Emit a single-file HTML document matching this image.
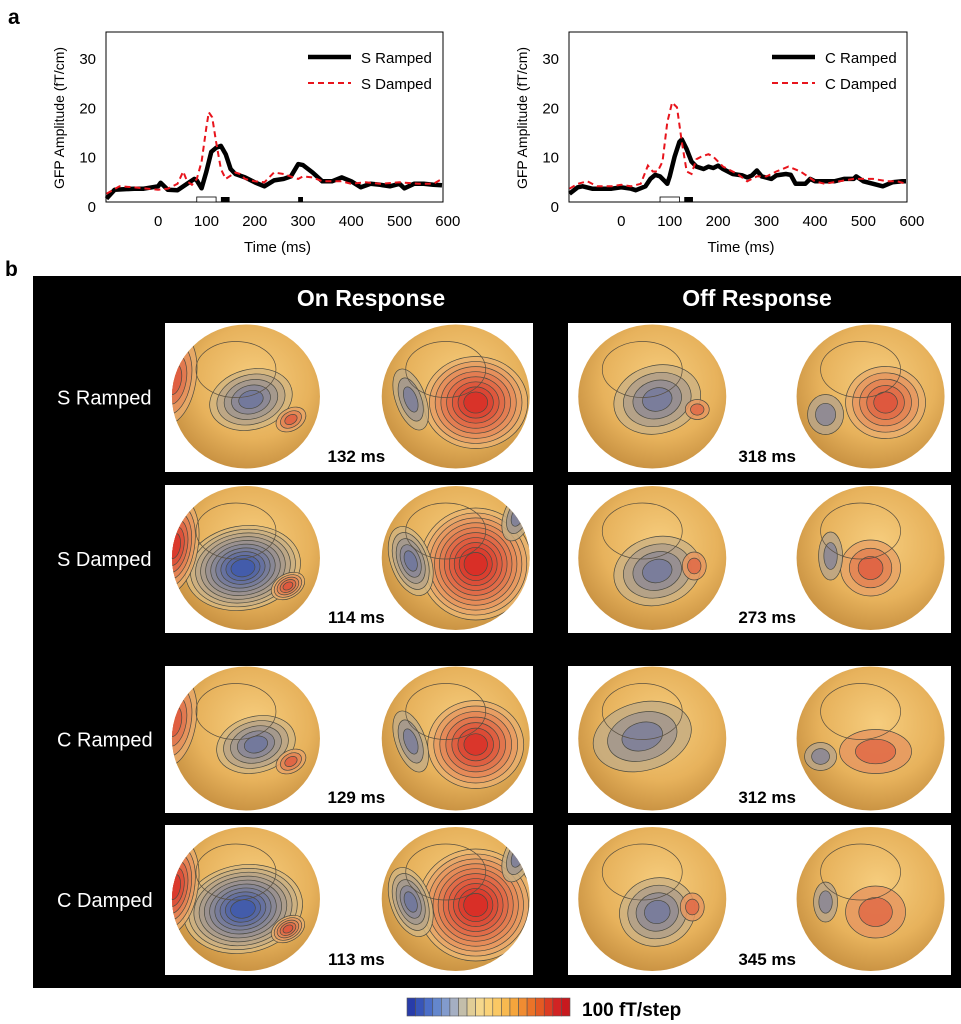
<!DOCTYPE html>
<html><head><meta charset="utf-8"><style>
html,body{margin:0;padding:0;background:#fff;}
svg{display:block;font-family:"Liberation Sans",Arial,sans-serif;}
</style></head><body>
<svg id="fig" width="961" height="1024" viewBox="0 0 961 1024" xmlns="http://www.w3.org/2000/svg">
<defs>
<radialGradient id="skin" cx="0.55" cy="0.4" r="0.65">
<stop offset="0" stop-color="#f6cd7e"/><stop offset="0.6" stop-color="#e7b25c"/><stop offset="1" stop-color="#c48d3e"/>
</radialGradient>
</defs>
<text x="8" y="24" font-size="21" font-weight="bold">a</text>
<text x="5" y="276" font-size="21" font-weight="bold">b</text>
<g id="chartL"></g>
<g id="chartR"></g>
<rect x="33" y="276" width="928" height="712" fill="#000"/>
<text x="371" y="306" font-size="23" font-weight="bold" fill="#fff" text-anchor="middle">On Response</text>
<text x="757" y="306" font-size="23" font-weight="bold" fill="#fff" text-anchor="middle">Off Response</text>
<g id="maps"></g>
<g id="cbar"></g>
<text x="582" y="1016" font-size="19" font-weight="bold">100 fT/step</text>
</svg>
<script>
const NS="http://www.w3.org/2000/svg";
function el(tag,attrs,parent,txt){const e=document.createElementNS(NS,tag);for(const k in attrs)e.setAttribute(k,attrs[k]);if(txt!==undefined)e.textContent=txt;parent.appendChild(e);return e;}

// ---------- chart data ----------
const xTicks=[0,100,200,300,400,500,600];
const yTicks=[0,10,20,30];
const sRampT=[-107,-90,-50,-30,0,5,20,40,60,75,80,90,100,110,120,130,140,150,160,180,200,220,240,260,275,290,300,320,340,360,380,400,420,440,460,480,500,510,530,550,570,588];
const sRampV=[1.5,3.3,3.5,3.5,4,4.7,3.3,3.2,4.5,5.5,5.2,3.6,7,11,11.8,12.2,10.5,7.5,6.5,5.8,4.8,4,5.2,5.5,6,8.5,8.3,6.8,5,5,5.8,5,3.8,4.5,4.3,4,4.5,3.6,4.5,4.5,4.3,4.2];
const sDampT=[-107,-80,-50,0,20,40,52,60,70,80,90,100,105,112,120,130,140,160,170,180,200,220,240,260,280,290,300,320,340,360,380,400,430,460,500,540,570,588];
const sDampV=[2.5,4,3.8,3.3,3.5,4.5,7,5,4.3,5.5,9,16,19,18,13,7.5,5.5,6.8,6.5,5.5,5,4.8,6.8,6.5,5.8,5.5,6,5.8,5,5,5,4.5,4.8,4.5,4.8,4.5,4.5,5.5];
const cRampT=[-107,-90,-80,-60,-20,0,20,30,50,60,70,80,90,95,100,110,120,125,135,145,155,170,180,190,200,210,230,250,260,270,280,290,310,320,340,350,360,380,390,400,420,440,460,480,485,500,520,540,560,580,588];
const cRampV=[2.5,3.8,4,3.5,3.5,3.8,3.5,3.2,4,5.5,6.3,6,5,4.5,6,10,13,13.5,11.5,9,8,7.5,8,7.7,8.2,7.5,6.5,6.2,5.8,6.2,7.2,6,5.5,6.2,6.5,6.3,4.5,4.5,5.5,5,5,5,5.5,5.5,6,5,4.5,4,4.8,5,5];
const cDampT=[-107,-90,-70,-50,-20,0,20,40,55,65,75,85,95,105,115,125,135,145,155,165,180,190,210,240,260,280,300,320,345,370,400,420,450,480,520,550,570,588];
const cDampV=[3.5,4.5,5,4,4,4.3,4,4.5,8.2,7,7,9,17,21,20,13,7,6.5,9.5,10,10.5,10,8,6.5,5,6,6,7,8,7,5,4.5,5,5.5,5.5,5,5,4.5];
const sOpen=[80,120], sFilled=[[130,148],[290,300]];
const cOpen=[80,120], cFilled=[[130,148]];

function drawChart(g,x0,x1,names,rT,rV,dT,dV,open,filled){
  const tMin=-108,tMax=590;
  const X=t=>x0+(t-tMin)/(tMax-tMin)*(x1-x0);
  const Y=v=>206-v*4.93;
  el('rect',{x:x0,y:32,width:x1-x0,height:170,fill:'none',stroke:'#000','stroke-width':1,},g);
  xTicks.forEach(t=>{const e=el('text',{x:X(t),y:226,'font-size':15,'text-anchor':'middle'},g,String(t));
    
    });
  yTicks.forEach(v=>{const e=el('text',{x:x0-10,y:Y(v)+6,'font-size':15,'text-anchor':'end'},g,String(v));
    
    });
  const yt=el('text',{x:0,y:0,'font-size':14,'text-anchor':'middle',transform:`translate(${x0-42},118) rotate(-90)`},g,'GFP Amplitude (fT/cm)');
  
  
  const xt=el('text',{x:(x0+x1)/2+3,y:252,'font-size':15,'text-anchor':'middle'},g,'Time (ms)');
  
  
  const pd=(T,V)=>T.map((t,i)=>(i?'L':'M')+X(t).toFixed(1)+' '+Y(V[i]).toFixed(1)).join(' ');
  const l1=el('path',{d:pd(rT,rV),fill:'none',stroke:'#000','stroke-width':4.5,'stroke-linejoin':'round'},g);
  
  
  const l2=el('path',{d:pd(dT,dV),fill:'none',stroke:'#e8141c','stroke-width':2,'stroke-dasharray':'6 4'},g);
  
  
  const o=el('rect',{x:X(open[0]),y:197,width:X(open[1])-X(open[0]),height:5,fill:'#fff',stroke:'#000','stroke-width':0.8},g);
  
  
  filled.forEach(f=>{const r=el('rect',{x:X(f[0]),y:197,width:X(f[1])-X(f[0]),height:5,fill:'#000'},g);
    
    });
  const lx=x1-135;
  const a=el('line',{x1:lx,y1:57,x2:lx+43,y2:57,stroke:'#000','stroke-width':4.5},g);
  
  
  const at=el('text',{x:lx+53,y:63,'font-size':15},g,names[0]);
  
  
  const b=el('line',{x1:lx,y1:83,x2:lx+43,y2:83,stroke:'#e8141c','stroke-width':2,'stroke-dasharray':'6 4'},g);
  
  
  const bt=el('text',{x:lx+53,y:89,'font-size':15},g,names[1]);
  
  
}
drawChart(document.getElementById('chartL'),106,443,['S Ramped','S Damped'],sRampT,sRampV,sDampT,sDampV,sOpen,sFilled);
drawChart(document.getElementById('chartR'),569,907,['C Ramped','C Damped'],cRampT,cRampV,cDampT,cDampV,cOpen,cFilled);

// ---------- topographic maps ----------
const rowLabels=['S Ramped','S Damped','C Ramped','C Damped'];
const rowY=[[323,472],[485,633],[666,813],[825,975]];
const onTimes=['132 ms','114 ms','129 ms','113 ms'];
const offTimes=['318 ms','273 ms','312 ms','345 ms'];
const BLUE=[48,80,176],RED=[214,30,30],TAN=[236,196,120];
function mix(a,b,t){return 'rgb('+a.map((v,i)=>Math.round(v+(b[i]-v)*t)).join(',')+')';}
let clipId=0;
function head(g,cx,cy,blobs){
  const id='hc'+(clipId++);
  const cp=el('clipPath',{id:id},g);
  el('ellipse',{cx:cx,cy:cy+2,rx:74,ry:72},cp);
  const h=el('ellipse',{cx:cx,cy:cy+2,rx:74,ry:72,fill:'url(#skin)'},g);
  
  
  const bg=el('g',{'clip-path':`url(#${id})`},g);
  blobs.forEach(b=>{
    const [dx,dy,rx,ry,rot,type,n]=b;const col=type==='b'?BLUE:RED;
    for(let i=0;i<n;i++){const s=1-i/n*0.88;
      el('ellipse',{cx:cx+dx,cy:cy+dy,rx:rx*s,ry:ry*s,transform:`rotate(${rot} ${cx+dx} ${cy+dy})`,
        fill:mix(TAN,col,(i+1)/(n+1)*(n>5?1:0.8)),'fill-opacity':0.85,stroke:'#4a4a40','stroke-width':0.7},bg);}
  });
  el('ellipse',{cx:cx-10,cy:cy-25,rx:40,ry:28,fill:'none',stroke:'#5a5040','stroke-width':0.7},bg);
}
const onSpecs=[
 [[[5,5,42,30,-15,'b',5],[-72,-15,22,45,10,'r',4],[45,25,16,11,-30,'r',3]],[[20,8,52,46,0,'r',8],[-45,5,15,32,-20,'b',3]]],
 [[[-3,12,58,42,-10,'b',10],[-72,-10,24,48,10,'r',6],[42,30,18,12,-30,'r',5]],[[20,8,56,56,0,'r',10],[-45,5,20,36,-20,'b',5],[62,-40,14,26,20,'b',3]]],
 [[[10,8,40,28,-15,'b',5],[-72,-15,22,45,10,'r',4],[45,25,16,11,-30,'r',3]],[[20,8,48,44,0,'r',7],[-45,5,15,32,-20,'b',3]]],
 [[[-3,12,60,44,-10,'b',10],[-72,-10,24,48,10,'r',6],[42,32,18,12,-30,'r',5]],[[20,8,58,56,0,'r',10],[-45,5,20,36,-20,'b',5],[62,-40,14,26,20,'b',3]]]
];
const offSpecs=[
 [[[5,5,44,34,-15,'b',4],[45,15,12,10,0,'r',2]],[[15,8,40,36,0,'r',5],[-45,20,18,20,0,'b',2]]],
 [[[5,15,44,34,-15,'b',4],[42,10,12,14,0,'r',2]],[[0,12,30,28,0,'r',3],[-40,0,12,24,0,'b',2]]],
 [[[-10,0,50,34,-15,'b',3]],[[5,15,36,22,0,'r',2],[-50,20,16,14,0,'b',2]]],
 [[[5,15,38,34,-15,'b',4],[40,10,12,14,0,'r',2]],[[5,15,30,26,0,'r',2],[-45,5,12,20,0,'b',2]]]
];
const maps=document.getElementById('maps');
rowLabels.forEach((lab,r)=>{
  const [y0,y1]=rowY[r];const cy=(y0+y1)/2;
  const t=el('text',{x:57,y:cy+7,'font-size':20,fill:'#fff'},maps,lab);
  
  
  [[165,533,onSpecs[r],onTimes[r],'on-response-map'],[568,951,offSpecs[r],offTimes[r],'off-response-map']].forEach(p=>{
    const g=el('g',{},maps);
    
    
    el('rect',{x:p[0],y:y0,width:p[1]-p[0],height:y1-y0,fill:'#fff'},g);
    const w=p[1]-p[0];
    head(g,p[0]+w*0.22,cy-3,p[2][0]);
    head(g,p[0]+w*0.79,cy-3,p[2][1]);
    const tt=el('text',{x:p[0]+w*0.52,y:y1-10,'font-size':17,'font-weight':'bold','text-anchor':'middle'},g,p[3]);
    
    
  });
});
const cbColors=[[40,60,170],[55,85,185],[75,110,200],[100,135,205],[130,155,205],[165,175,195],[195,190,170],[225,205,150],[245,215,140],[250,210,120],[250,200,100],[248,185,80],[245,165,60],[240,140,50],[235,115,40],[228,90,35],[220,60,35],[210,35,35],[200,25,30]];
const cb=document.getElementById('cbar');
const cw=163/cbColors.length;
cbColors.forEach((c,i)=>{const r=el('rect',{x:407+i*cw,y:998,width:cw,height:18,fill:'rgb('+c.join(',')+')',stroke:'#555','stroke-width':0.6},cb);
  
  });
</script>
</body></html>
